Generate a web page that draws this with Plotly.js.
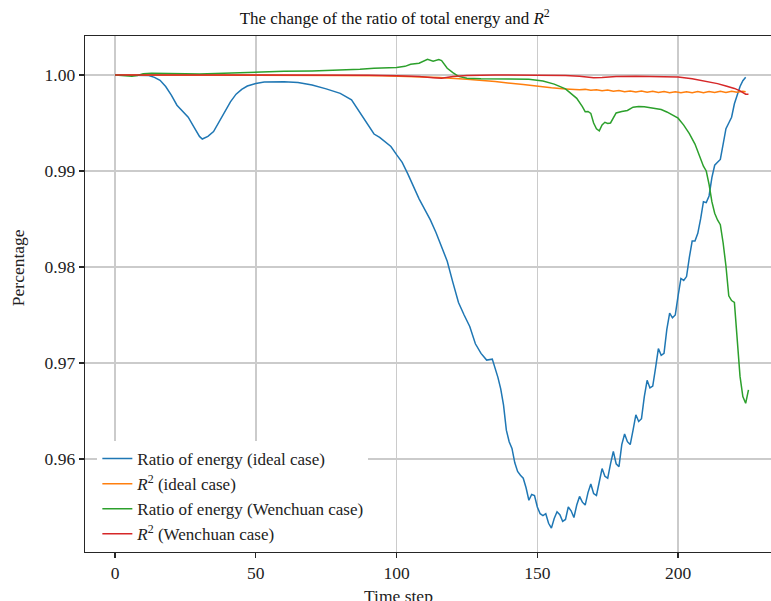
<!DOCTYPE html>
<html>
<head>
<meta charset="utf-8">
<script src="https://cdn.plot.ly/plotly-3.0.1.min.js"></script>
<style>html,body{margin:0;padding:0;background:#fff;overflow:hidden}#chart{width:771px;height:601px}</style>
</head>
<body>
<div id="chart"></div>
<script>
// Ratio of energy (ideal case)
const tIdealRatio = [0,5,10,12,14,16,18,20,22,24,26,28,30,31,33,35,37,39,41,43,45,47,50,53,56,60,65,70,75,80,84,86,88,90,92,94,96,98,100,102,104,106,108,110,112,114,116,118,120,122,124,126,128,130,132,134,136,137,138,139,140,141,142,143,144,145,146,147,148,149,150,151,152,153,154,155,156,157,158,159,160,161,162,163,164,165,166,167,168,169,170,171,172,173,174,175,176,177,178,179,180,181,182,183,184,185,186,187,188,189,190,191,192,193,194,195,196,197,198,199,200,201,202,203,204,205,206,207,208,209,210,211,212,213,214,215,216,217,218,219,220,221,222,223,224];
const vIdealRatio = [1.0000,1.0000,1.0000,0.99995,0.99975,0.99945,0.99880,0.99790,0.99685,0.99625,0.99560,0.99460,0.99360,0.99333,0.99360,0.99410,0.99510,0.99620,0.99720,0.99800,0.99850,0.99885,0.99912,0.99928,0.99932,0.99930,0.99922,0.99895,0.99855,0.99808,0.99742,0.99650,0.99555,0.99470,0.99385,0.99350,0.99305,0.99255,0.99170,0.99090,0.98970,0.98840,0.98710,0.98600,0.98490,0.98360,0.98220,0.98060,0.97840,0.97630,0.97500,0.97380,0.97200,0.97100,0.97030,0.97040,0.96850,0.96730,0.96560,0.96300,0.96180,0.96110,0.95960,0.95870,0.95830,0.95800,0.95700,0.95570,0.95630,0.95620,0.95500,0.95430,0.95410,0.95430,0.95330,0.95280,0.95380,0.95450,0.95420,0.95350,0.95370,0.95500,0.95460,0.95390,0.95520,0.95610,0.95550,0.95520,0.95650,0.95740,0.95640,0.95620,0.95760,0.95900,0.95820,0.95800,0.95950,0.96080,0.95950,0.95920,0.96150,0.96260,0.96180,0.96150,0.96300,0.96460,0.96390,0.96420,0.96650,0.96820,0.96740,0.96760,0.96950,0.97150,0.97080,0.97100,0.97350,0.97520,0.97470,0.97500,0.97700,0.97880,0.97860,0.97900,0.98100,0.98270,0.98270,0.98350,0.98500,0.98680,0.98670,0.98740,0.98930,0.99060,0.99090,0.99120,0.99280,0.99440,0.99500,0.99560,0.99700,0.99790,0.99880,0.99940,0.99976];

// R^2 (ideal case)
const tIdealR2 = [0,20,40,60,80,95,105,115,125,135,145,150,155,160,163,165,167,169,171,173,175,177,179,181,183,185,187,189,191,193,195,197,199,201,203,205,207,209,211,213,215,217,219,221,223,224];
const vIdealR2 = [1.0000,1.0000,0.99998,0.99996,0.99994,0.99992,0.99985,0.99975,0.99955,0.99932,0.99900,0.99880,0.99866,0.99855,0.99850,0.99845,0.99850,0.99840,0.99847,0.99836,0.99843,0.99830,0.99838,0.99826,0.99834,0.99822,0.99832,0.99820,0.99830,0.99818,0.99828,0.99816,0.99826,0.99815,0.99826,0.99815,0.99827,0.99816,0.99828,0.99817,0.99830,0.99818,0.99830,0.99820,0.99830,0.99825];

// Ratio of energy (Wenchuan case)
const tWenRatio = [0,3,6,8,10,13,18,25,30,40,50,60,70,80,87,92,96,100,103,105,108,110,111,113,115,116,118,120,122,125,130,140,147,152,156,160,162,164,166,167,168,169,170,171,172,173,174,175,176,177,178,180,182,184,186,188,190,192,194,196,198,200,202,204,206,208,209,210,211,212,213,214,215,216,217,218,219,220,221,222,223,224,225];
const vWenRatio = [1.0000,0.99995,0.99988,0.99995,1.00012,1.00018,1.00018,1.00012,1.00010,1.00020,1.00030,1.00038,1.00042,1.00050,1.00060,1.00070,1.00072,1.00078,1.00090,1.00112,1.00122,1.00150,1.00164,1.00143,1.00160,1.00150,1.00070,1.00025,0.99985,0.99965,0.99960,0.99958,0.99955,0.99937,0.99905,0.99855,0.99810,0.99757,0.99670,0.99618,0.99620,0.99600,0.99500,0.99440,0.99417,0.99480,0.99507,0.99495,0.99500,0.99560,0.99605,0.99620,0.99630,0.99665,0.99672,0.99670,0.99662,0.99655,0.99640,0.99615,0.99585,0.99550,0.99478,0.99390,0.99280,0.99120,0.99050,0.99000,0.98860,0.98680,0.98560,0.98490,0.98440,0.98250,0.98010,0.97700,0.97650,0.97630,0.97280,0.96860,0.96650,0.96580,0.96720];

// R^2 (Wenchuan case)
const tWenR2 = [0,50,90,100,108,113,116,120,125,135,150,160,165,170,173,178,185,195,200,205,210,214,217,220,222,223,224,225];
const vWenR2 = [1.0000,1.0000,0.99998,0.99992,0.99985,0.99972,0.99966,0.99985,0.99995,1.0000,1.0000,0.99995,0.99988,0.99972,0.99975,0.99985,0.99988,0.99985,0.99980,0.99960,0.99935,0.99910,0.99885,0.99860,0.99835,0.99815,0.99800,0.99798];

const seriesNames = ['Ratio of energy (ideal case)','<i>R</i><sup>2</sup> (ideal case)','Ratio of energy (Wenchuan case)','<i>R</i><sup>2</sup> (Wenchuan case)'];
const seriesColors = ['#1f77b4','#ff7f0e','#2ca02c','#d62728'];
const xTicks = [0,50,100,150,200];
const yTicks = [0.96,0.97,0.98,0.99,1.00];

const xs = [tIdealRatio,tIdealR2,tWenRatio,tWenR2];
const ys = [vIdealRatio,vIdealR2,vWenRatio,vWenR2];
const traces = xs.map((x,i)=>({x:x,y:ys[i],type:'scatter',mode:'lines',name:seriesNames[i],line:{color:seriesColors[i],width:1.5}}));

const serif = '"Liberation Serif","Times New Roman",serif';
const layout = {
  width:771,height:601,
  margin:{l:85,r:0,t:36,b:49},
  paper_bgcolor:'#fff',plot_bgcolor:'#fff',
  font:{family:serif,color:'#222',size:17},
  title:{text:'The change of the ratio of total energy and <i>R</i><sup>2</sup>',font:{family:serif,size:17,color:'#111'},xref:'container',x:0.512,xanchor:'center',yref:'container',y:0.97,yanchor:'middle'},
  showlegend:true,
  legend:{x:0.018,y:0,xanchor:'left',yanchor:'bottom',bgcolor:'rgba(255,255,255,1)',borderwidth:0,font:{family:serif,size:17,color:'#222'},tracegroupgap:0},
  xaxis:{range:[-10.66,233.0],tickvals:xTicks,ticktext:xTicks.map(String),showgrid:true,gridcolor:'#cbcbcb',gridwidth:1.5,zeroline:false,showline:true,mirror:true,linecolor:'#262626',linewidth:1.3,ticks:'outside',ticklen:5,tickwidth:1.2,tickcolor:'#262626',tickfont:{family:serif,size:17.5,color:'#222'}},
  yaxis:{range:[0.95031,1.00406],tickvals:yTicks,ticktext:yTicks.map(v=>v.toFixed(2)),showgrid:true,gridcolor:'#cbcbcb',gridwidth:1.5,zeroline:false,showline:true,mirror:false,linecolor:'#262626',linewidth:1.3,ticks:'outside',ticklen:5,tickwidth:1.2,tickcolor:'#262626',tickfont:{family:serif,size:17.5,color:'#222'}},
  annotations:[
    {text:'Percentage',xref:'paper',yref:'paper',x:-0.0977,y:0.552,xanchor:'center',yanchor:'middle',textangle:-90,showarrow:false,font:{family:serif,size:17.5,color:'#222'}},
    {text:'Time step',xref:'paper',yref:'paper',x:0.457,y:-0.0853,xanchor:'center',yanchor:'middle',showarrow:false,font:{family:serif,size:17.5,color:'#222'}}
  ]
};
Plotly.newPlot('chart',traces,layout,{displayModeBar:false,staticPlot:true});
</script>
</body>
</html>
